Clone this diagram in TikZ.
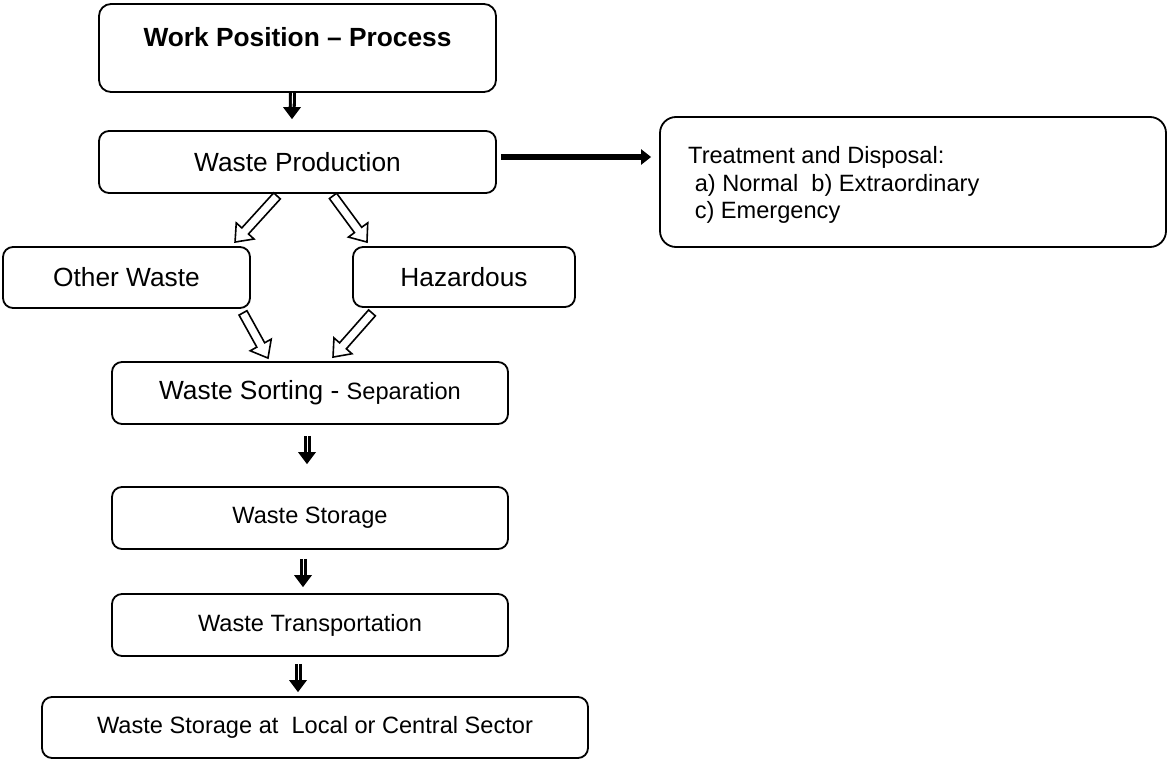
\documentclass[tikz,border=0pt]{standalone}
\usepackage{fontspec}
\setmainfont{Liberation Sans}
\usetikzlibrary{arrows.meta,calc}
\newcommand\FontBig{\fontsize{26.3}{30}\selectfont}
\newcommand\FontSmall{\fontsize{23.6}{27.5}\selectfont}
\newcommand\blockarrow[2]{%
  \draw[hollowarrow] let \p1=(#1), \p2=(#2),
    \n1={atan2(\y2-\y1,\x2-\x1)}, \n2={veclen(\x2-\x1,\y2-\y1)} in
    [shift={(\p1)}, rotate=\n1]
    (0,-4.5) -- ({\n2-15},-4.5) -- ({\n2-15},-12) -- (\n2,0) --
    ({\n2-15},12) -- ({\n2-15},4.5) -- (0,4.5) -- cycle;}
\newcommand\vdarrow[2]{%
  \draw[line width=7pt, shorten >=10pt] (#1) -- (#2);
  \draw[white, line width=0.9pt, shorten >=10pt] (#1) -- (#2);
  \fill ($(#2)+(-9,-12)$) -- ($(#2)+(9,-12)$) -- (#2) -- cycle;}
\begin{document}
\begin{tikzpicture}[x=1pt,y=-1pt,
  box/.style={draw, line width=1.8pt, rounded corners=10pt, inner sep=0pt, align=center},
  hollowarrow/.style={draw, line width=1.6pt, fill=white, line join=miter},
  thickarrow/.style={line width=6.5pt, -{Triangle[length=10pt,width=15pt]}}]
\useasboundingbox (0,0) rectangle (1170,760);

\node[box, rounded corners=12pt, minimum width=397pt, minimum height=88pt,
  text height=42.3pt, text depth=45.7pt, font=\FontBig\bfseries] (wp) at (297.5,48) {Work Position – Process};
\node[box, minimum width=397pt, minimum height=62pt, font=\FontBig] (wprod) at (297.5,162) {Waste Production};
\node[box, rounded corners=16pt, minimum width=506pt, minimum height=130pt] (treat) at (913,182) {};
\node[inner sep=0pt, anchor=base west, font=\FontSmall] (treattxt) at (688,163.5)
  {\begin{tabular}[t]{@{}l@{}}Treatment and Disposal:\\\ a) Normal\ \ b) Extraordinary\\\ c) Emergency\end{tabular}};
\node[box, minimum width=247pt, minimum height=61pt, font=\FontBig] (other) at (126.5,277.5) {Other Waste};
\node[box, minimum width=222pt, minimum height=60pt, font=\FontBig] (haz) at (464,277) {Hazardous};
\node[box, minimum width=396pt, minimum height=62pt, font=\FontBig] (sort) at (310,393) {Waste Sorting - {\FontSmall Separation}};
\node[box, minimum width=396pt, minimum height=62pt, font=\FontSmall] (store) at (310,518) {Waste Storage};
\node[box, minimum width=396pt, minimum height=62pt, font=\FontSmall] (trans) at (310,625) {Waste Transportation};
\node[box, minimum width=546pt, minimum height=61pt, font=\FontSmall] (final) at (315,727.5) {Waste Storage at\ \ Local or Central Sector};

% vertical arrows
\coordinate (v1s) at ($(wp.south)+(-5,0)$);
\coordinate (v1e) at ($(wprod.north)+(-5.5,-11)$);
\coordinate (v2s) at ($(sort.south)+(-3,11)$);
\coordinate (v2e) at ($(store.north)+(-3,-22)$);
\coordinate (v3s) at ($(store.south)+(-7,9)$);
\coordinate (v3e) at ($(trans.north)+(-7,-6)$);
\coordinate (v4s) at ($(trans.south)+(-12,7)$);
\coordinate (v4e) at ($(final.north)+(-17,-4)$);
\vdarrow{v1s}{v1e}
\vdarrow{v2s}{v2e}
\vdarrow{v3s}{v3e}
\vdarrow{v4s}{v4e}

% thick arrow
\draw[thickarrow] ($(wprod.east)+(4,-5)$) -- ($(treat.west)+(-8,-25)$);

% hollow block arrows
\coordinate (a1s) at ($(wprod.south)+(-20.5,2)$);
\coordinate (a1e) at ($(other.north)+(108.5,-4)$);
\coordinate (a2s) at ($(wprod.south)+(35.5,2)$);
\coordinate (a2e) at ($(haz.north)+(-97,-4)$);
\coordinate (a3s) at ($(other.south)+(116.5,4)$);
\coordinate (a3e) at ($(sort.north)+(-42,-3)$);
\coordinate (a4s) at ($(haz.south)+(-92,5)$);
\coordinate (a4e) at ($(sort.north)+(23,-4)$);
\blockarrow{a1s}{a1e}
\blockarrow{a2s}{a2e}
\blockarrow{a3s}{a3e}
\blockarrow{a4s}{a4e}
\end{tikzpicture}
\end{document}
